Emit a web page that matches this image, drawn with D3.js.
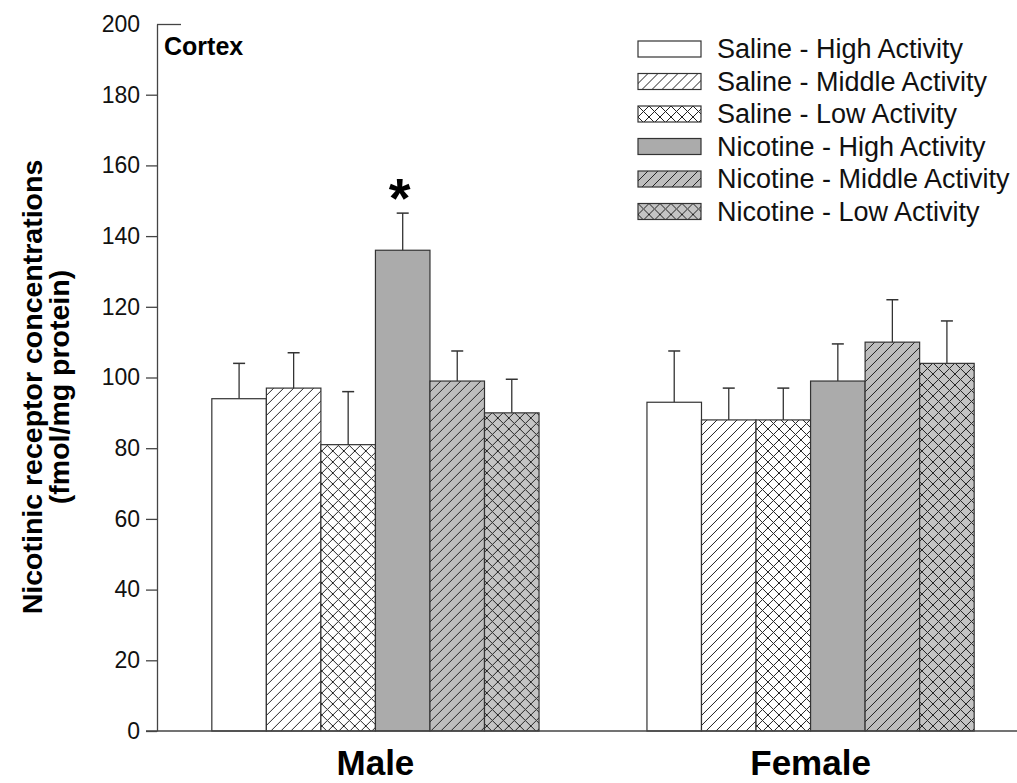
<!DOCTYPE html>
<html>
<head>
<meta charset="utf-8">
<script src="https://cdn.jsdelivr.net/npm/d3@7"></script>
<style>
  html, body { margin: 0; padding: 0; background: #fff; }
  svg { display: block; font-family: "Liberation Sans", Arial, Helvetica, sans-serif; }
</style>
</head>
<body>
<svg id="chart" width="1017" height="783"></svg>
<script>
// ---- data ----
const groups = ["Male", "Female"];
const seriesNames = [
  "Saline - High Activity",
  "Saline - Middle Activity",
  "Saline - Low Activity",
  "Nicotine - High Activity",
  "Nicotine - Middle Activity",
  "Nicotine - Low Activity"
];
const maleMeans   = [94, 97, 81, 136, 99, 90];
const maleSEM     = [10, 10, 15, 10.5, 8.5, 9.5];
const femaleMeans = [93, 88, 88, 99, 110, 104];
const femaleSEM   = [14.5, 9, 9, 10.5, 12, 12];
const yTicks = [0, 20, 40, 60, 80, 100, 120, 140, 160, 180, 200];
const significant = [{group: "Male", series: "Nicotine - High Activity", label: "*"}];
const panelLabel = "Cortex";
const yTitle = ["Nicotinic receptor concentrations", "(fmol/mg protein)"];

// ---- styles ----
const fills = {
  "Saline - High Activity": "#ffffff",
  "Saline - Middle Activity": "url(#diagWhite)",
  "Saline - Low Activity": "url(#crossWhite)",
  "Nicotine - High Activity": "#ababab",
  "Nicotine - Middle Activity": "url(#diagGray)",
  "Nicotine - Low Activity": "url(#crossGray)"
};

const svg = d3.select("#chart");
const defs = svg.append("defs");

function diagPattern(id, bg) {
  const p = defs.append("pattern").attr("id", id)
    .attr("patternUnits", "userSpaceOnUse").attr("width", 10).attr("height", 10);
  p.append("rect").attr("width", 10).attr("height", 10).attr("fill", bg);
  p.append("path").attr("d", "M-1,1 L1,-1 M0,10 L10,0 M9,11 L11,9")
    .attr("stroke", "#222").attr("stroke-width", 1);
}
function crossPattern(id, bg) {
  const p = defs.append("pattern").attr("id", id)
    .attr("patternUnits", "userSpaceOnUse").attr("width", 11).attr("height", 11);
  p.append("rect").attr("width", 11).attr("height", 11).attr("fill", bg);
  p.append("path").attr("d", "M-1,1 L1,-1 M0,11 L11,0 M10,12 L12,10 M-1,10 L1,12 M0,0 L11,11 M10,-1 L12,1")
    .attr("stroke", "#222").attr("stroke-width", 1);
}
diagPattern("diagWhite", "#ffffff");
crossPattern("crossWhite", "#ffffff");
diagPattern("diagGray", "#bdbdbd");
crossPattern("crossGray", "#c4c4c4");

// ---- scales ----
const axisX = 157, y0px = 731, y200px = 24;
const y = d3.scaleLinear().domain([0, 200]).range([y0px, y200px]);
const x0 = d3.scaleBand().domain(groups).range([axisX, 1029])
  .paddingInner(0.248).paddingOuter(0.126);
const x1 = d3.scaleBand().domain(seriesNames).range([0, x0.bandwidth()]).padding(0);

const data = groups.map(g => ({
  group: g,
  values: seriesNames.map((s, i) => ({
    series: s,
    mean: g === "Male" ? maleMeans[i] : femaleMeans[i],
    sem: g === "Male" ? maleSEM[i] : femaleSEM[i]
  }))
}));

// ---- bars ----
const gBars = svg.append("g");
const grp = gBars.selectAll("g.grp").data(data).join("g")
  .attr("class", "grp")
  .attr("transform", d => `translate(${x0(d.group)},0)`);

// error bars (upper only)
grp.selectAll("line.err").data(d => d.values).join("line")
  .attr("x1", d => x1(d.series) + x1.bandwidth() / 2)
  .attr("x2", d => x1(d.series) + x1.bandwidth() / 2)
  .attr("y1", d => y(d.mean))
  .attr("y2", d => y(d.mean + d.sem))
  .attr("stroke", "#333").attr("stroke-width", 1.3);
grp.selectAll("line.cap").data(d => d.values).join("line")
  .attr("x1", d => x1(d.series) + x1.bandwidth() / 2 - 6)
  .attr("x2", d => x1(d.series) + x1.bandwidth() / 2 + 6)
  .attr("y1", d => y(d.mean + d.sem))
  .attr("y2", d => y(d.mean + d.sem))
  .attr("stroke", "#333").attr("stroke-width", 1.5);

grp.selectAll("rect").data(d => d.values).join("rect")
  .attr("x", d => x1(d.series))
  .attr("width", x1.bandwidth())
  .attr("y", d => y(d.mean))
  .attr("height", d => y(0) - y(d.mean))
  .attr("fill", d => fills[d.series])
  .attr("stroke", "#333").attr("stroke-width", 1.2);

// significance marks
significant.forEach(s => {
  const gd = data.find(d => d.group === s.group).values.find(v => v.series === s.series);
  svg.append("text")
    .attr("x", x0(s.group) + x1(s.series) + x1.bandwidth() / 2 - 3)
    .attr("y", y(gd.mean + gd.sem) + 4)
    .attr("text-anchor", "middle")
    .attr("font-size", 56).attr("font-weight", "bold")
    .text(s.label);
});

// ---- axes ----
const yAxis = d3.axisLeft(y).tickValues(yTicks).tickFormat(d3.format("d"))
  .tickSize(11).tickSizeOuter(0).tickPadding(6);
const gy = svg.append("g").attr("transform", `translate(${axisX},0)`).call(yAxis);
gy.selectAll("text").attr("font-size", 23).attr("font-family", "Liberation Sans, Arial, sans-serif").attr("fill", "#111");
gy.selectAll("line, path").attr("stroke", "#444").attr("stroke-width", 1.3);
// top tick extends into the plot
gy.selectAll(".tick").filter(d => d === 200).select("line").attr("x2", 24);

const xAxis = d3.axisBottom(x0).tickSize(0).tickSizeOuter(0).tickPadding(0);
const gx = svg.append("g").attr("transform", `translate(0,${y0px})`).call(xAxis);
gx.select("path.domain").attr("d", `M${axisX - 11},0H1017`).attr("stroke", "#444").attr("stroke-width", 1.3);
gx.selectAll("text").attr("font-size", 35).attr("font-weight", "bold")
  .attr("font-family", "Liberation Sans, Arial, sans-serif").attr("fill", "#000")
  .attr("dy", null).attr("y", 44);

// panel label
svg.append("text").attr("x", 164).attr("y", 55)
  .attr("font-size", 25).attr("font-weight", "bold").text(panelLabel);

// y title
const yt = svg.append("text").attr("transform", "translate(42,387) rotate(-90)")
  .attr("text-anchor", "middle").attr("font-size", 28.5).attr("font-weight", "bold");
yt.append("tspan").attr("x", 0).attr("y", 0).text(yTitle[0]);
yt.append("tspan").attr("x", 0).attr("y", 27).text(yTitle[1]);

// ---- legend ----
const legend = svg.append("g").attr("transform", "translate(638,41)");
const li = legend.selectAll("g").data(seriesNames).join("g")
  .attr("transform", (d, i) => `translate(0,${i * 32.5})`);
li.append("rect").attr("width", 63).attr("height", 16)
  .attr("fill", d => fills[d]).attr("stroke", "#333").attr("stroke-width", 1.2);
li.append("text").attr("x", 79).attr("y", 17)
  .attr("font-size", 27).attr("fill", "#111").text(d => d);
</script>
</body>
</html>
